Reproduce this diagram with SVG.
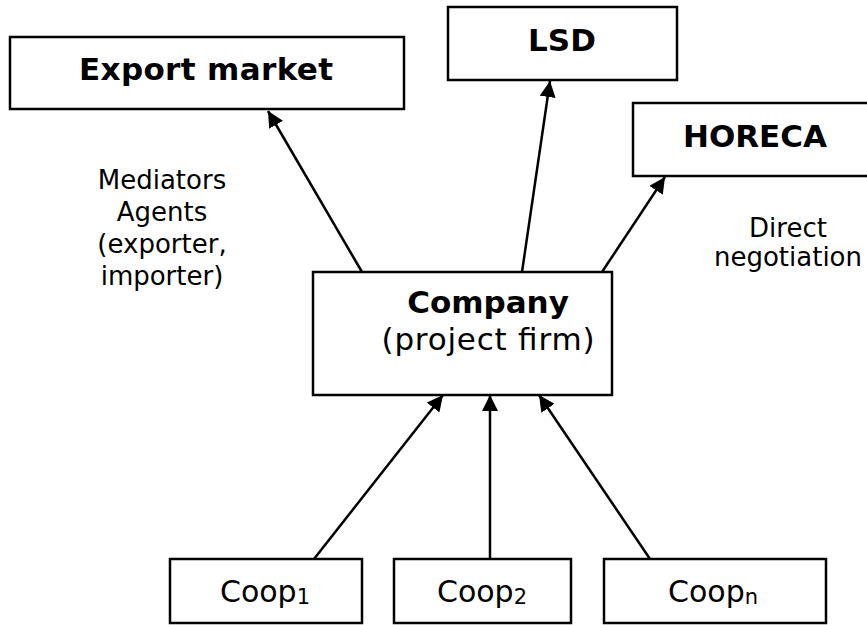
<svg xmlns="http://www.w3.org/2000/svg" width="867" height="625" viewBox="0 0 867 625">
  <style>
    .box { fill: #ffffff; stroke: #000000; stroke-width: 2.5; }
    .lbl { font-family: "DejaVu Sans", Verdana, sans-serif; fill: #000000; text-anchor: middle; }
    .b { font-weight: bold; font-size: 31px; }
    .r { font-size: 31px; }
    .note { font-size: 26px; }
    .coop { font-size: 30px; }
    .sub { font-size: 21px; }
    .edge { stroke: #000000; stroke-width: 2.5; fill: none; marker-end: url(#head); }
  </style>
  <defs>
    <marker id="head" markerUnits="userSpaceOnUse" markerWidth="18" markerHeight="16" refX="16" refY="8" orient="auto">
      <path d="M0,0 L16,8 L0,16 z" fill="#000000"/>
    </marker>
  </defs>
  <rect width="867" height="625" fill="#ffffff"/>

  <g id="connectors">
    <line class="edge" x1="362" y1="272" x2="268" y2="111"/>
    <line class="edge" x1="522" y1="272" x2="550" y2="81"/>
    <line class="edge" x1="602" y1="272" x2="665" y2="177"/>
    <line class="edge" x1="314" y1="559" x2="443" y2="395"/>
    <line class="edge" x1="490" y1="559" x2="490" y2="395"/>
    <line class="edge" x1="650" y1="559" x2="539" y2="395"/>
  </g>

  <g id="export-market">
    <rect class="box" x="10" y="37" width="394" height="72"/>
    <text class="lbl b" x="206" y="80" textLength="254">Export market</text>
  </g>

  <g id="lsd">
    <rect class="box" x="448" y="7" width="229" height="73"/>
    <text class="lbl b" x="562" y="51">LSD</text>
  </g>

  <g id="horeca">
    <rect class="box" x="633" y="103" width="250" height="73"/>
    <text class="lbl b" x="755" y="147">HORECA</text>
  </g>

  <g id="company">
    <rect class="box" x="313" y="272" width="299" height="123"/>
    <text class="lbl b" x="488" y="313">Company</text>
    <text class="lbl r" x="488" y="350" textLength="213">(project firm)</text>
  </g>

  <g id="mediators-note">
    <text class="lbl note" x="162" y="189">Mediators</text>
    <text class="lbl note" x="162" y="221">Agents</text>
    <text class="lbl note" x="162" y="253">(exporter,</text>
    <text class="lbl note" x="162" y="285">importer)</text>
  </g>

  <g id="direct-note">
    <text class="lbl note" x="788" y="237">Direct</text>
    <text class="lbl note" x="788" y="266">negotiation</text>
  </g>

  <g id="coop1">
    <rect class="box" x="170" y="559" width="192" height="64"/>
    <text class="lbl coop" x="265" y="602">Coop<tspan class="sub" dy="2">1</tspan></text>
  </g>

  <g id="coop2">
    <rect class="box" x="394" y="559" width="177" height="64"/>
    <text class="lbl coop" x="482" y="602">Coop<tspan class="sub" dy="2">2</tspan></text>
  </g>

  <g id="coopn">
    <rect class="box" x="604" y="559" width="222" height="64"/>
    <text class="lbl coop" x="713" y="602">Coop<tspan class="sub" dy="2">n</tspan></text>
  </g>
</svg>
